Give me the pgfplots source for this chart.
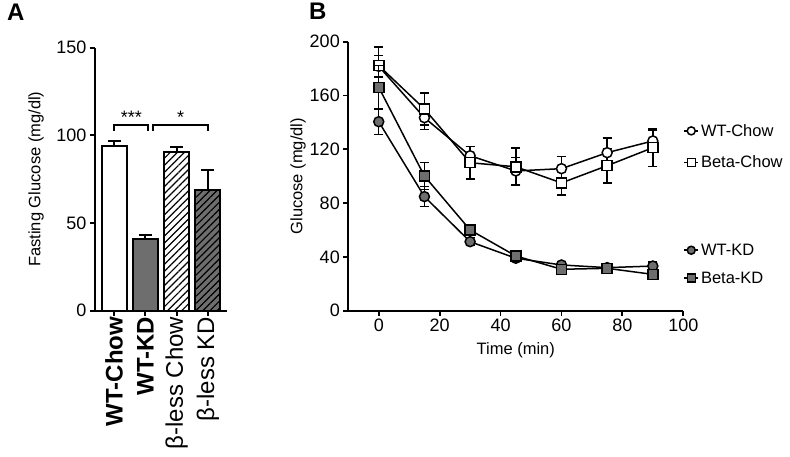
\documentclass[border=0pt]{standalone}
\usepackage{fontspec}
\setmainfont{Liberation Sans}
\usepackage{pgfplots}
\pgfplotsset{compat=1.18}
\usetikzlibrary{patterns.meta}

\definecolor{bargray}{HTML}{6E6E6E}

\pgfplotsset{
  prism/.style={
    scale only axis,
    anchor=south west,
    axis x line*=bottom, axis y line*=left,
    axis line style={-, line width=2pt, black},
    tick align=outside,
    major tick length=5pt,
    every tick/.style={line width=2pt, black},
    /pgf/number format/assume math mode=true,
    tick label style={font=\fontsize{18}{20}\selectfont},
    label style={font=\fontsize{16.5}{19}\selectfont},
  },
  legline/.style={
    legend image code/.code={
      \draw[##1, mark repeat=2, mark phase=2, mark size=4pt]
        plot coordinates {(0pt,0pt) (7pt,0pt) (14pt,0pt)};
    }
  },
}

\begin{document}
\begin{tikzpicture}
\path (0,0) rectangle (790pt,457pt);

% panel letters
\node[anchor=north west, font=\fontsize{24}{26}\selectfont\bfseries, inner sep=0pt] at (7pt,453pt) {A};
\node[anchor=north west, font=\fontsize{24}{26}\selectfont\bfseries, inner sep=0pt] at (309pt,454pt) {B};

% ---------- panel A ----------
\begin{axis}[prism,
  at={(95pt,146.3pt)}, width=132pt, height=263pt,
  xmin=-0.61, xmax=3.61, ymin=0, ymax=150,
  ytick={0,50,100,150},
  xtick={0,1,2,3},
  xticklabels={\textbf{WT-Chow}, \textbf{WT-KD}, β-less Chow, β-less KD},
  xticklabel style={rotate=90, anchor=east, inner sep=1pt, font=\fontsize{24}{26}\selectfont},
  ylabel={Fasting Glucose (mg/dl)},
  ylabel style={at={(axis description cs:-0.447,0.5)}, anchor=center},
  error bars/y dir=plus, error bars/y explicit,
  error bars/error bar style={line width=1.8pt},
  error bars/error mark options={rotate=90, mark size=6.5pt, line width=1.8pt},
  clip=false,
]
\addplot[ybar, bar width=25pt, bar shift=0pt, draw=black, line width=2pt, fill=white]
  coordinates {(0,93.9) +- (0,3.1)};
\addplot[ybar, bar width=25pt, bar shift=0pt, draw=black, line width=2pt, fill=bargray]
  coordinates {(1,40.9) +- (0,2.3)};
\addplot[ybar, bar width=25pt, bar shift=0pt, draw=black, line width=2pt, fill=white,
  postaction={pattern={Lines[angle=45, distance=5pt, line width=1.2pt]}}]
  coordinates {(2,90.7) +- (0,2.8)};
\addplot[ybar, bar width=25pt, bar shift=0pt, draw=black, line width=2pt, fill=bargray,
  postaction={pattern={Lines[angle=45, distance=5pt, line width=1.2pt]}}]
  coordinates {(3,68.8) +- (0,11.4)};

\draw[line width=2pt] (axis cs:0,102.4) -- (axis cs:0,106) -- (axis cs:1.1,106) -- (axis cs:1.1,102.4);
\draw[line width=2pt] (axis cs:1.23,102.4) -- (axis cs:1.23,106) -- (axis cs:3,106) -- (axis cs:3,102.4);
\node[font=\fontsize{18}{20}\selectfont] at (axis cs:0.55,110.5) {***};
\node[font=\fontsize{18}{20}\selectfont] at (axis cs:2.13,110.5) {*};
\end{axis}

% ---------- panel B (chow) ----------
\begin{axis}[prism, legline,
  at={(348.3pt,146.3pt)}, width=335pt, height=269pt,
  xmin=-10, xmax=100, ymin=0, ymax=200,
  xtick={0,20,...,100}, ytick={0,40,...,200},
  axis line style={-, line width=1.8pt, black},
  every tick/.style={line width=1.8pt, black},
  xlabel={Time (min)}, ylabel={Glucose (mg/dl)},
  xlabel style={at={(axis description cs:0.5,-0.146)}, anchor=center},
  ylabel style={at={(axis description cs:-0.150,0.5)}, anchor=center},
  error bars/y dir=both, error bars/y explicit,
  error bars/error bar style={line width=1.4pt},
  error bars/error mark options={rotate=90, mark size=4.5pt, line width=1.4pt},
  legend style={draw=none, fill=none, at={(1.0,0.61)}, anchor=west, inner sep=0pt,
    font=\fontsize{16.5}{19}\selectfont, row sep=14pt,
    /tikz/every even column/.append style={column sep=11pt}},
  legend cell align=left,
  clip=false,
]
\addplot[black, line width=1.5pt, mark=*, mark size=5pt, mark options={fill=white, line width=1.5pt}]
  coordinates {(0,181.7) +- (0,8) (15,143.5) +- (0,9) (30,115.2) +- (0,7) (45,103.9) +- (0,10)
               (60,105.6) +- (0,9) (75,117.5) +- (0,11) (90,126.2) +- (0,8)};
\addlegendentry{WT-Chow}
\addplot[black, line width=1.5pt, mark=square*, mark size=5pt, mark options={fill=white, line width=1.5pt}]
  coordinates {(0,182.2) +- (0,14) (15,150) +- (0,12) (30,110) +- (0,12) (45,107) +- (0,14)
               (60,95) +- (0,9) (75,107.8) +- (0,13) (90,121.2) +- (0,14)};
\addlegendentry{Beta-Chow}
\end{axis}

% ---------- panel B (KD) ----------
\begin{axis}[prism, legline, hide axis,
  at={(348.3pt,146.3pt)}, width=335pt, height=269pt,
  xmin=-10, xmax=100, ymin=0, ymax=200,
  error bars/y dir=both, error bars/y explicit,
  error bars/error bar style={line width=1.4pt},
  error bars/error mark options={rotate=90, mark size=4.5pt, line width=1.4pt},
  legend style={draw=none, fill=none, at={(1.0,0.173)}, anchor=west, inner sep=0pt,
    font=\fontsize{16.5}{19}\selectfont, row sep=11pt,
    /tikz/every even column/.append style={column sep=11pt}},
  legend cell align=left,
  clip=false,
]
\addplot[black, line width=1.5pt, mark=*, mark size=5pt, mark options={fill=bargray, line width=1.5pt}]
  coordinates {(0,140.5) +- (0,9.5) (15,84.8) +- (0,7.5) (30,51.3) +- (0,3) (45,39) +- (0,2.5)
               (60,34) +- (0,2) (75,32) +- (0,2) (90,33.2) +- (0,3)};
\addlegendentry{WT-KD}
\addplot[black, line width=1.5pt, mark=square*, mark size=5pt, mark options={fill=bargray, line width=1.5pt}]
  coordinates {(0,166.1) +- (0,16) (15,100.1) +- (0,10) (30,60) +- (0,3) (45,40.7) +- (0,2)
               (60,30.8) +- (0,2) (75,31.5) +- (0,3) (90,27) +- (0,3)};
\addlegendentry{Beta-KD}
\end{axis}
\end{tikzpicture}
\end{document}
